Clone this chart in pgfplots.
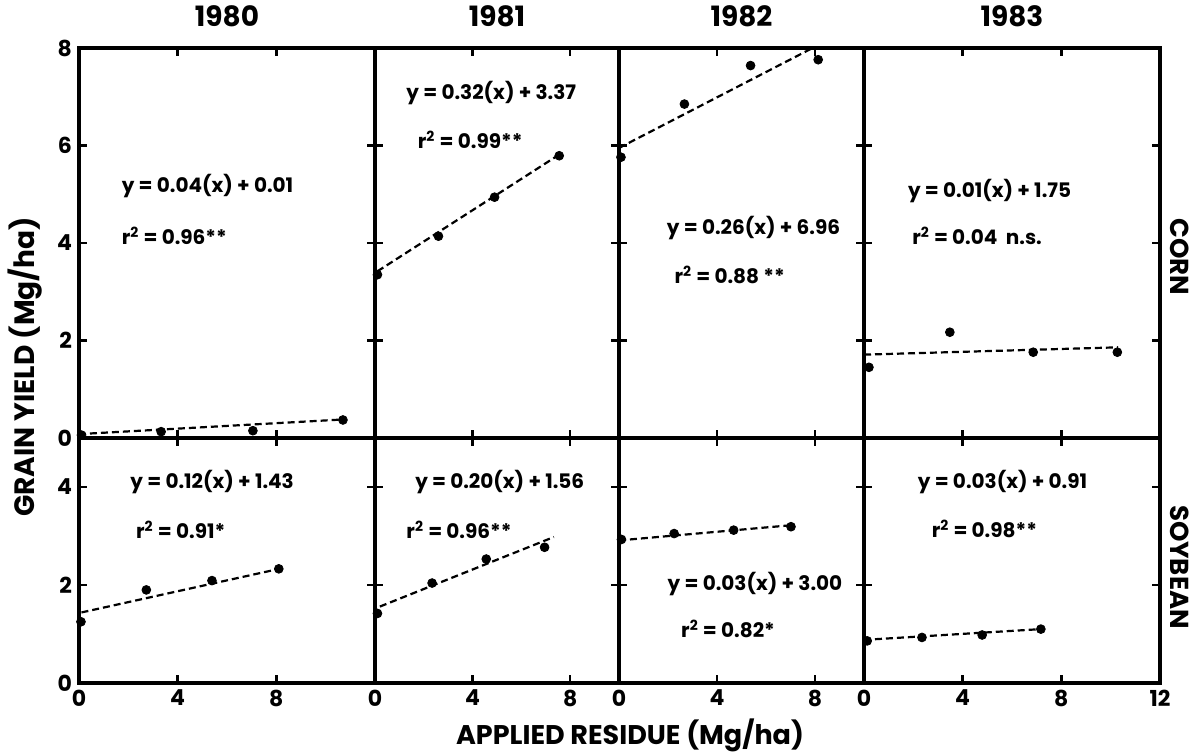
\documentclass[border=0pt]{standalone}
\usepackage{pgfplots}
\pgfplotsset{compat=1.18}
\usepackage{fontspec}
\setmainfont{Poppins}

\pgfplotsset{
  panel/.style={
    scale only axis, anchor=north west,
    axis line style={line width=2pt},
    tick align=inside,
    major tick length=4pt,
    every tick/.style={black, line width=1.2pt},
    xmin=0, ymin=0,
    xtick={0,4,8,12},
    xticklabel=\empty,
    yticklabel=\empty,
    tick label style={font=\bfseries\fontsize{11}{11}\selectfont},
    clip=false,
    title style={font=\bfseries\fontsize{14}{14}\selectfont, at={(0.5,1)}, anchor=base, yshift=5pt},
  },
  corn/.style={ymax=8, ytick={0,2,4,6,8}, height=195pt},
  soy/.style={ymax=5, ytick={0,2,4}, height=122.5pt},
  fit/.style={black, line width=1.1pt, dash pattern=on 3.5pt off 2pt, mark=none},
  obs/.style={black, only marks, mark=*, mark size=2.2pt},
}
\tikzset{eq/.style={anchor=west, font=\bfseries\fontsize{10}{10}\selectfont}}

\begin{document}
\begin{tikzpicture}
\useasboundingbox (0,0) rectangle (597pt,-376pt);

% ---- CORN row ----
\begin{axis}[panel, corn, at={(39.5pt,-24pt)}, width=148pt, xmax=12,
  yticklabels={0,2,4,6,8}, title={1980}]
  \addplot[fit] coordinates {(0,0.08) (10.7,0.38)};
  \addplot[obs] coordinates {(0.1,0.06) (3.33,0.13) (7.05,0.15) (10.7,0.37)};
  \node[eq] at (axis cs:1.45,5.16) {y = 0.04(x) + 0.01};
  \node[eq] at (axis cs:1.45,4.14) {r\textsuperscript{2} = 0.96**};
\end{axis}

\begin{axis}[panel, corn, at={(187.5pt,-24pt)}, width=122pt, xmax=10,
  xtick={0,4,8}, title={1981}]
  \addplot[fit] coordinates {(0.1,3.42) (7.6,5.83)};
  \addplot[obs] coordinates {(0.1,3.35) (2.6,4.14) (4.9,4.94) (7.55,5.79)};
  \node[eq] at (axis cs:1.0,7.08) {y = 0.32(x) + 3.37};
  \node[eq] at (axis cs:1.47,6.12) {r\textsuperscript{2} = 0.99**};
\end{axis}

\begin{axis}[panel, corn, at={(309.5pt,-24pt)}, width=122.5pt, xmax=10,
  xtick={0,4,8}, title={1982}]
  \addplot[fit] coordinates {(0,5.95) (7.9,8.0)};
  \addplot[obs] coordinates {(0.08,5.76) (2.67,6.85) (5.37,7.64) (8.13,7.76)};
  \node[eq] at (axis cs:1.67,4.31) {y = 0.26(x) + 6.96};
  \node[eq] at (axis cs:1.98,3.35) {r\textsuperscript{2} = 0.88 **};
\end{axis}

\begin{axis}[panel, corn, at={(432pt,-24pt)}, width=148pt, xmax=12,
  title={1983}]
  \addplot[fit] coordinates {(0,1.71) (10.3,1.86)};
  \addplot[obs] coordinates {(0.2,1.45) (3.48,2.17) (6.86,1.76) (10.27,1.76)};
  \node[eq] at (axis cs:1.5,5.06) {y = 0.01(x) + 1.75};
  \node[eq] at (axis cs:1.67,4.14) {r\textsuperscript{2} = 0.04\ \ n.s.};
\end{axis}

% ---- SOYBEAN row ----
\begin{axis}[panel, soy, at={(39.5pt,-219pt)}, width=148pt, xmax=12,
  yticklabels={0,2,4}, xticklabels={0,4,8,{}}]
  \addplot[fit] coordinates {(0.1,1.44) (8.3,2.35)};
  \addplot[obs] coordinates {(0.08,1.25) (2.73,1.90) (5.39,2.09) (8.1,2.33)};
  \node[eq] at (axis cs:1.8,4.11) {y = 0.12(x) + 1.43};
  \node[eq] at (axis cs:2.03,3.12) {r\textsuperscript{2} = 0.91*};
\end{axis}

\begin{axis}[panel, soy, at={(187.5pt,-219pt)}, width=122pt, xmax=10,
  xtick={0,4,8}, xticklabels={0,4,8}]
  \addplot[fit] coordinates {(0.2,1.56) (7.33,2.98)};
  \addplot[obs] coordinates {(0.1,1.42) (2.34,2.04) (4.56,2.53) (6.95,2.77)};
  \node[eq] at (axis cs:1.36,4.11) {y = 0.20(x) + 1.56};
  \node[eq] at (axis cs:1.0,3.12) {r\textsuperscript{2} = 0.96**};
\end{axis}

\begin{axis}[panel, soy, at={(309.5pt,-219pt)}, width=122.5pt, xmax=10,
  xtick={0,4,8}, xticklabels={0,4,8}]
  \addplot[fit] coordinates {(0,2.91) (7.02,3.22)};
  \addplot[obs] coordinates {(0.1,2.93) (2.25,3.05) (4.68,3.12) (7.02,3.19)};
  \node[eq] at (axis cs:1.7,2.03) {y = 0.03(x) + 3.00};
  \node[eq] at (axis cs:2.25,1.10) {r\textsuperscript{2} = 0.82*};
\end{axis}

\begin{axis}[panel, soy, at={(432pt,-219pt)}, width=148pt, xmax=12,
  xticklabels={0,4,8,12}]
  \addplot[fit] coordinates {(0,0.88) (7.17,1.10)};
  \addplot[obs] coordinates {(0.13,0.86) (2.35,0.93) (4.79,0.98) (7.17,1.10)};
  \node[eq] at (axis cs:1.9,4.1) {y = 0.03(x) + 0.91};
  \node[eq] at (axis cs:2.46,3.14) {r\textsuperscript{2} = 0.98**};
\end{axis}

% ---- labels ----
\node[rotate=90, font=\bfseries\fontsize{14}{14}\selectfont] at (12.5pt,-183.5pt) {GRAIN YIELD (Mg/ha)};
\node[anchor=base, inner sep=0pt, font=\bfseries\fontsize{13.5}{13.5}\selectfont] at (315pt,-372pt) {APPLIED RESIDUE (Mg/ha)};
\node[rotate=-90, font=\bfseries\fontsize{13}{13}\selectfont] at (590pt,-128.5pt) {CORN};
\node[rotate=-90, font=\bfseries\fontsize{13}{13}\selectfont] at (590pt,-283.5pt) {SOYBEAN};
\end{tikzpicture}
\end{document}
